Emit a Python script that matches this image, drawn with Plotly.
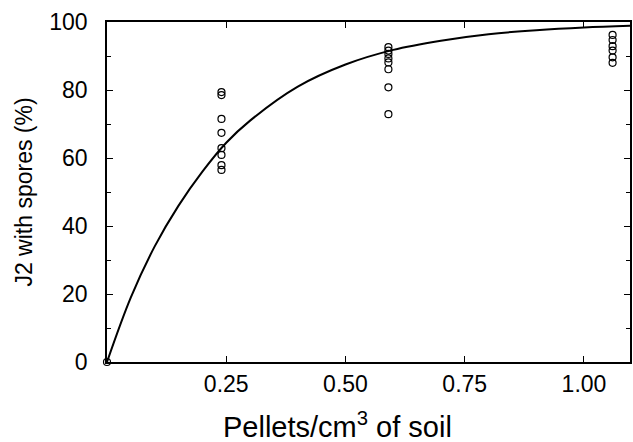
import plotly.graph_objects as go

# Observed points (pellets/cm3, % J2 with spores)
x_obs = [0.0,
         0.24, 0.24, 0.24, 0.24, 0.24, 0.24, 0.24, 0.24,
         0.59, 0.59, 0.59, 0.59, 0.59, 0.59, 0.59, 0.59,
         1.06, 1.06, 1.06, 1.06, 1.06, 1.06]
y_obs = [0.0,
         79.4, 78.5, 71.5, 67.4, 62.9, 60.9, 57.9, 56.5,
         92.6, 91.6, 90.6, 89.3, 88.1, 86.1, 80.8, 72.9,
         96.2, 94.7, 92.9, 91.6, 89.6, 88.0]

# Fitted curve
x_fit = [0.0, 0.05, 0.10, 0.15, 0.20, 0.25, 0.30, 0.40, 0.50, 0.60, 0.70, 0.80, 0.90, 1.00, 1.10]
y_fit = [0.0, 19.0, 34.0, 46.0, 56.0, 64.5, 71.0, 81.0, 87.5, 91.8, 94.5, 96.4, 97.6, 98.4, 98.9]

x_ticks = [0.25, 0.50, 0.75, 1.00]
x_ticktext = ["0.25", "0.50", "0.75", "1.00"]
y_ticks = [0, 20, 40, 60, 80, 100]

x_title = "Pellets/cm<sup>3</sup> of soil"
y_title = "J2 with spores (%)"

FONT = "Liberation Sans, Arial, sans-serif"

fig = go.Figure()
fig.add_trace(go.Scatter(x=x_fit, y=y_fit, mode="lines", line=dict(color="black", width=2, shape="spline"),
                         showlegend=False, hoverinfo="skip"))
fig.add_trace(go.Scatter(x=x_obs, y=y_obs, mode="markers",
                         marker=dict(symbol="circle-open", size=7, color="black", line=dict(width=1.2)),
                         showlegend=False, cliponaxis=False))

fig.update_layout(
    width=633, height=442,
    margin=dict(l=107, r=1, t=22, b=80),
    paper_bgcolor="white", plot_bgcolor="white",
    font=dict(family=FONT, color="black"),
    annotations=[dict(text=x_title, xref="paper", yref="paper", x=0.44, y=-0.185,
                      xanchor="center", yanchor="middle", showarrow=False,
                      font=dict(size=29, family=FONT, color="black"))],
)
fig.update_xaxes(
    range=[0, 1.0965], tickvals=x_ticks, ticktext=x_ticktext,
    showgrid=False, zeroline=False, showline=True, linecolor="black", linewidth=1.5,
    mirror="ticks", ticks="inside", ticklen=6, tickwidth=1.2, tickcolor="black",
    tickfont=dict(size=23), ticklabelstandoff=1,
)
fig.update_yaxes(
    range=[0, 100], tickvals=y_ticks,
    showgrid=False, zeroline=False, showline=True, linecolor="black", linewidth=1.5,
    mirror="ticks", ticks="inside", ticklen=6, tickwidth=1.2, tickcolor="black",
    minor=dict(ticks="inside", dtick=10, ticklen=4, tickcolor="black", tickwidth=1),
    tickfont=dict(size=23), ticklabelstandoff=13,
    title=dict(text=y_title, font=dict(size=23), standoff=10),
)

fig.write_html("out.html")
